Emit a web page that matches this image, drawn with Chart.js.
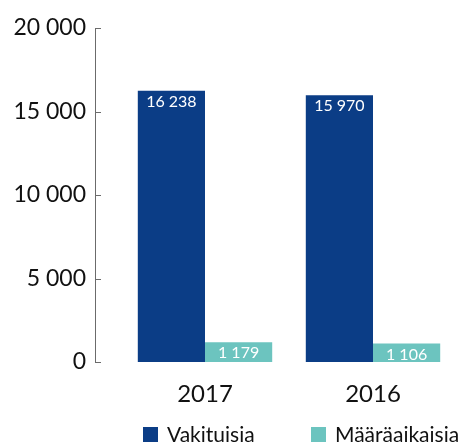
<!DOCTYPE html>
<html>
<head>
<meta charset="utf-8">
<script src="https://cdn.jsdelivr.net/npm/chart.js@4"></script>
<style>
    html, body { margin: 0; padding: 0; background: #fff; }
    #wrap { width: 461px; height: 443px; }
</style>
</head>
<body>
<div id="wrap"><canvas id="chart"></canvas></div>
<script>
// Chart data
const categories = ['2017', '2016'];
const seriesNames = ['Vakituisia', 'Määräaikaisia'];
const vakituisia = [16238, 15970];
const maaraaikaisia = [1179, 1106];
const yTicks = [0, 5000, 10000, 15000, 20000];

const colors = ['#0b3d86', '#6cc4bf'];
const fontFamily = 'Lato, "Open Sans", sans-serif';

// Format numbers with a space as thousands separator
function formatNumber(v) {
    return String(v).replace(/\B(?=(\d{3})+(?!\d))/g, ' ');
}

// Y axis line with small ticks pointing into the plot
const yAxisLine = {
    id: 'yAxisLine',
    afterDraw(chart) {
        const ctx = chart.ctx;
        const y = chart.scales.y;
        const x0 = chart.chartArea.left - 26;
        ctx.save();
        ctx.strokeStyle = '#6b6b6b';
        ctx.lineWidth = 1;
        ctx.beginPath();
        ctx.moveTo(x0 + 0.5, y.getPixelForValue(yTicks[yTicks.length - 1]));
        ctx.lineTo(x0 + 0.5, y.getPixelForValue(yTicks[0]));
        yTicks.forEach(t => {
            const py = Math.round(y.getPixelForValue(t)) + 0.5;
            ctx.moveTo(x0, py);
            ctx.lineTo(x0 + 6, py);
        });
        ctx.stroke();
        ctx.restore();
    }
};

// White value labels inside the top of each bar
const barLabels = {
    id: 'barLabels',
    afterDatasetsDraw(chart) {
        const ctx = chart.ctx;
        ctx.save();
        ctx.fillStyle = '#ffffff';
        ctx.font = '16px ' + fontFamily;
        ctx.textAlign = 'center';
        ctx.textBaseline = 'middle';
        chart.data.datasets.forEach((ds, i) => {
            chart.getDatasetMeta(i).data.forEach((bar, j) => {
                ctx.fillText(formatNumber(ds.data[j]), bar.x, bar.y + 11);
            });
        });
        ctx.restore();
    }
};

// Legend under the axis labels, one item per series
const bottomLegend = {
    id: 'bottomLegend',
    afterDraw(chart) {
        const ctx = chart.ctx;
        const x = chart.scales.x;
        const cy = 434;
        ctx.save();
        ctx.font = '21px ' + fontFamily;
        ctx.textAlign = 'left';
        ctx.textBaseline = 'middle';
        chart.data.datasets.forEach((ds, i) => {
            const left = x.getPixelForValue(i) - 62;
            ctx.fillStyle = ds.backgroundColor;
            ctx.fillRect(left, cy - 7, 15, 15);
            ctx.fillStyle = '#111111';
            ctx.fillText(ds.label, left + 24, cy + 1);
        });
        ctx.restore();
    }
};

const ctx = document.getElementById('chart').getContext('2d');
new Chart(ctx, {
    type: 'bar',
    data: {
        labels: categories,
        datasets: [{
            label: seriesNames[0],
            data: vakituisia,
            backgroundColor: colors[0]
        }, {
            label: seriesNames[1],
            data: maaraaikaisia,
            backgroundColor: colors[1]
        }]
    },
    options: {
        responsive: true,
        maintainAspectRatio: false,
        animation: false,
        layout: {
            padding: { top: 28, right: 4, bottom: 37, left: 0 }
        },
        categoryPercentage: 0.8,
        barPercentage: 1.0,
        plugins: {
            legend: { display: false },
            tooltip: { enabled: false }
        },
        scales: {
            x: {
                grid: { display: false, drawTicks: false },
                border: { display: false },
                afterFit(scale) {
                    scale.height = 44;
                    scale.paddingLeft = 0;
                    scale.paddingRight = 0;
                },
                ticks: {
                    color: '#111111',
                    padding: 18,
                    font: { family: fontFamily, size: 24 }
                }
            },
            y: {
                min: yTicks[0],
                max: yTicks[yTicks.length - 1],
                grid: { display: false, drawTicks: false },
                border: { display: false },
                afterFit(scale) {
                    scale.width = 121;
                    scale.paddingTop = 0;
                    scale.paddingBottom = 0;
                },
                ticks: {
                    stepSize: 5000,
                    padding: 35,
                    color: '#111111',
                    font: { family: fontFamily, size: 23 },
                    callback: v => formatNumber(v)
                }
            }
        }
    },
    plugins: [yAxisLine, barLabels, bottomLegend]
});
</script>
</body>
</html>
